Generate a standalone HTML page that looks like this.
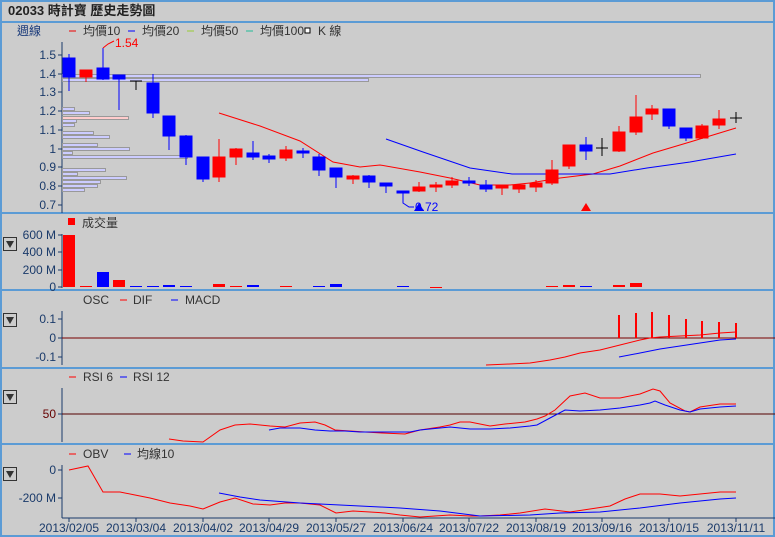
<!DOCTYPE html>
<html><head><meta charset="utf-8"><style>
body{margin:0;background:#ccc;}
svg{display:block;font-family:"Liberation Sans","Noto Sans CJK TC",sans-serif;}
</style></head><body>
<svg width="775" height="537" viewBox="0 0 775 537" xmlns="http://www.w3.org/2000/svg">
<rect x="0" y="0" width="775" height="537" fill="#cccccc"/>
<g fill="none" stroke="#5b9bd5" stroke-width="2">
<rect x="1" y="1" width="773" height="535"/>
<line x1="0" y1="22" x2="775" y2="22"/>
<line x1="0" y1="213" x2="775" y2="213"/>
<line x1="0" y1="290" x2="775" y2="290"/>
<line x1="0" y1="368" x2="775" y2="368"/>
<line x1="0" y1="444" x2="775" y2="444"/>
</g>
<text x="8" y="15" font-size="13" font-weight="bold" fill="#222">02033 時計寶  歷史走勢圖</text>
<!-- legend -->
<g font-size="12">
<text x="17" y="35" fill="#1a3a7a">週線</text>
<line x1="69" y1="31" x2="76" y2="31" stroke="#e00"/><text x="83" y="35" fill="#333">均價10</text>
<line x1="128" y1="31" x2="135" y2="31" stroke="#00f"/><text x="142" y="35" fill="#333">均價20</text>
<line x1="187" y1="31" x2="194" y2="31" stroke="#9c3"/><text x="201" y="35" fill="#333">均價50</text>
<line x1="246" y1="31" x2="253" y2="31" stroke="#2b9"/><text x="260" y="35" fill="#333">均價100</text>
<rect x="305" y="28" width="5" height="5" fill="#fff" stroke="#000"/><text x="318" y="35" fill="#333">K 線</text>
</g>
<!-- price axis -->
<g stroke="#1a3a6a"><line x1="62" y1="42" x2="62" y2="213"/>
<line x1="58" y1="55" x2="62" y2="55"/><line x1="58" y1="74" x2="62" y2="74"/><line x1="58" y1="92" x2="62" y2="92"/><line x1="58" y1="111" x2="62" y2="111"/><line x1="58" y1="130" x2="62" y2="130"/><line x1="58" y1="149" x2="62" y2="149"/><line x1="58" y1="167" x2="62" y2="167"/><line x1="58" y1="186" x2="62" y2="186"/><line x1="58" y1="205" x2="62" y2="205"/></g>
<g font-size="12" fill="#1a3a6a" text-anchor="end">
<text x="56" y="59">1.5</text><text x="56" y="78">1.4</text><text x="56" y="96">1.3</text><text x="56" y="115">1.2</text><text x="56" y="134">1.1</text><text x="56" y="153">1</text><text x="56" y="171">0.9</text><text x="56" y="190">0.8</text><text x="56" y="209">0.7</text>
</g>
<!-- volume profile -->
<g fill="#ccccff" stroke="#999" stroke-width="1">
<rect x="62.5" y="74.5" width="638" height="3"/>
<rect x="62.5" y="78.5" width="306" height="3"/>
<rect x="62.5" y="107.5" width="12" height="3"/>
<rect x="62.5" y="111.5" width="27" height="3"/>
<rect x="62.5" y="116.5" width="66" height="3" fill="#ffcccc"/>
<rect x="62.5" y="119.5" width="14" height="3"/>
<rect x="62.5" y="123.5" width="12" height="3"/>
<rect x="62.5" y="131.5" width="31" height="3"/>
<rect x="62.5" y="135.5" width="47" height="3"/>
<rect x="62.5" y="143.5" width="35" height="3"/>
<rect x="62.5" y="147.5" width="67" height="3"/>
<rect x="62.5" y="151.5" width="10" height="3"/>
<rect x="62.5" y="155.5" width="125" height="3"/>
<rect x="62.5" y="168.5" width="43" height="3"/>
<rect x="62.5" y="172.5" width="15" height="3"/>
<rect x="62.5" y="176.5" width="64" height="3"/>
<rect x="62.5" y="180.5" width="38" height="3"/>
<rect x="62.5" y="184.5" width="35" height="3"/>
<rect x="62.5" y="188.5" width="22" height="3"/>
</g>
<!-- MAs -->
<polyline fill="none" stroke="#f00" points="219,113 260,126 300,141 333,162 360,167 380,165 420,172 450,178 480,185 510,185 530,183 560,178 593,174 620,166 653,153 690,142 736,128"/>
<polyline fill="none" stroke="#00f" points="386,139 423,152 470,168 512,174 610,174 647,168 690,162 736,154"/>
<!-- candles -->
<g stroke-width="1">
<g stroke="#00f" fill="#00f">
<line x1="69" y1="54" x2="69" y2="91"/><rect x="63" y="58" width="12" height="19"/>
<line x1="103" y1="48" x2="103" y2="80"/><rect x="97" y="68" width="12" height="11"/>
<line x1="119" y1="75" x2="119" y2="110"/><rect x="113" y="75" width="12" height="4"/>
<line x1="153" y1="74" x2="153" y2="118"/><rect x="147" y="83" width="12" height="30"/>
<line x1="169" y1="116" x2="169" y2="150"/><rect x="163" y="116" width="12" height="20"/>
<line x1="186" y1="135" x2="186" y2="165"/><rect x="180" y="136" width="12" height="21"/>
<line x1="203" y1="157" x2="203" y2="182"/><rect x="197" y="157" width="12" height="22"/>
<line x1="253" y1="141" x2="253" y2="160"/><rect x="247" y="153" width="12" height="4"/>
<line x1="269" y1="154" x2="269" y2="163"/><rect x="263" y="156" width="12" height="3"/>
<line x1="303" y1="148" x2="303" y2="158"/><rect x="297" y="151" width="12" height="2"/>
<line x1="319" y1="154" x2="319" y2="176"/><rect x="313" y="157" width="12" height="13"/>
<line x1="336" y1="168" x2="336" y2="188"/><rect x="330" y="168" width="12" height="9"/>
<line x1="369" y1="175" x2="369" y2="188"/><rect x="363" y="176" width="12" height="6"/>
<line x1="386" y1="183" x2="386" y2="193"/><rect x="380" y="183" width="12" height="3"/>
<rect x="397" y="191" width="12" height="2"/>
<polyline fill="none" points="403,192 403,203 409,207 414,207"/>
<line x1="469" y1="177" x2="469" y2="186"/><rect x="463" y="181" width="12" height="2"/>
<line x1="486" y1="180" x2="486" y2="192"/><rect x="480" y="185" width="12" height="4"/>
<line x1="586" y1="137" x2="586" y2="160"/><rect x="580" y="145" width="12" height="6"/>
<line x1="669" y1="109" x2="669" y2="129"/><rect x="663" y="109" width="12" height="17"/>
<line x1="686" y1="128" x2="686" y2="141"/><rect x="680" y="128" width="12" height="10"/>
</g>
<g stroke="#f00" fill="#f00">
<line x1="86" y1="70" x2="86" y2="82"/><rect x="80" y="70" width="12" height="7"/>
<line x1="219" y1="139" x2="219" y2="182"/><rect x="213" y="157" width="12" height="20"/>
<line x1="236" y1="148" x2="236" y2="165"/><rect x="230" y="149" width="12" height="8"/>
<line x1="286" y1="146" x2="286" y2="161"/><rect x="280" y="150" width="12" height="8"/>
<line x1="353" y1="175" x2="353" y2="184"/><rect x="347" y="176" width="12" height="3"/>
<line x1="419" y1="182" x2="419" y2="192"/><rect x="413" y="187" width="12" height="4"/>
<line x1="436" y1="182" x2="436" y2="192"/><rect x="430" y="185" width="12" height="2"/>
<line x1="452" y1="177" x2="452" y2="188"/><rect x="446" y="181" width="12" height="4"/>
<line x1="502" y1="185" x2="502" y2="195"/><rect x="496" y="186" width="12" height="2"/>
<line x1="519" y1="185" x2="519" y2="193"/><rect x="513" y="185" width="12" height="4"/>
<line x1="536" y1="180" x2="536" y2="192"/><rect x="530" y="183" width="12" height="4"/>
<line x1="552" y1="160" x2="552" y2="185"/><rect x="546" y="170" width="12" height="13"/>
<line x1="569" y1="145" x2="569" y2="169"/><rect x="563" y="145" width="12" height="21"/>
<line x1="619" y1="126" x2="619" y2="152"/><rect x="613" y="132" width="12" height="19"/>
<line x1="636" y1="95" x2="636" y2="135"/><rect x="630" y="117" width="12" height="15"/>
<line x1="652" y1="105" x2="652" y2="120"/><rect x="646" y="109" width="12" height="5"/>
<line x1="702" y1="124" x2="702" y2="139"/><rect x="696" y="126" width="12" height="12"/>
<line x1="719" y1="110" x2="719" y2="129"/><rect x="713" y="119" width="12" height="6"/>
</g>
<g stroke="#000">
<line x1="136" y1="81" x2="136" y2="90"/><line x1="130" y1="81" x2="142" y2="81"/>
<line x1="602" y1="138" x2="602" y2="156"/><line x1="596" y1="148" x2="608" y2="148"/>
<line x1="736" y1="112" x2="736" y2="123"/><line x1="730" y1="118" x2="742" y2="118"/>
</g>
</g>
<polyline fill="none" stroke="#f00" points="103,48 108,44 114,41"/>
<text x="115" y="47" font-size="12" fill="#f00">1.54</text>
<text x="415" y="211" font-size="12" fill="#00f">0.72</text>
<polygon points="414,211 419,203 424,211" fill="#00f"/>
<polygon points="581,211 586,203 591,211" fill="#f00"/>
<!-- volume panel -->
<rect x="68" y="218" width="7" height="7" fill="#f00"/>
<text x="82" y="227" font-size="12" fill="#333">成交量</text>
<g stroke="#1a3a6a"><line x1="62" y1="234" x2="62" y2="288"/><line x1="58" y1="235" x2="62" y2="235"/><line x1="58" y1="252" x2="62" y2="252"/><line x1="58" y1="270" x2="62" y2="270"/><line x1="58" y1="287" x2="62" y2="287"/></g>
<g font-size="12" fill="#1a3a6a" text-anchor="end"><text x="56" y="239">600 M</text><text x="56" y="256">400 M</text><text x="56" y="274">200 M</text><text x="56" y="291">0</text></g>
<g fill="#f00"><rect x="63" y="235" width="12" height="52"/><rect x="80" y="286" width="12" height="1"/><rect x="113" y="280" width="12" height="7"/><rect x="213" y="284" width="12" height="3"/><rect x="230" y="286" width="12" height="1"/><rect x="280" y="286" width="12" height="1"/><rect x="430" y="287" width="12" height="1"/><rect x="546" y="286" width="12" height="1"/><rect x="563" y="285" width="12" height="2"/><rect x="613" y="285" width="12" height="2"/><rect x="630" y="283" width="12" height="4"/></g>
<g fill="#00f"><rect x="97" y="272" width="12" height="15"/><rect x="130" y="286" width="12" height="1"/><rect x="147" y="286" width="12" height="1"/><rect x="163" y="285" width="12" height="2"/><rect x="180" y="286" width="12" height="1"/><rect x="247" y="285" width="12" height="2"/><rect x="313" y="286" width="12" height="1"/><rect x="330" y="284" width="12" height="3"/><rect x="397" y="286" width="12" height="1"/><rect x="580" y="286" width="12" height="1"/></g>
<!-- dropdown icons -->
<g>
<rect x="3.5" y="237.5" width="13" height="13" fill="#ccc" stroke="#333"/><polygon points="6,241 14,241 10,248" fill="#333"/>
<rect x="3.5" y="313.5" width="13" height="13" fill="#ccc" stroke="#333"/><polygon points="6,317 14,317 10,324" fill="#333"/>
<rect x="3.5" y="390.5" width="13" height="13" fill="#ccc" stroke="#333"/><polygon points="6,394 14,394 10,401" fill="#333"/>
<rect x="3.5" y="467.5" width="13" height="13" fill="#ccc" stroke="#333"/><polygon points="6,471 14,471 10,478" fill="#333"/>
</g>
<!-- MACD panel -->
<g font-size="12" fill="#333"><text x="83" y="304">OSC</text><line x1="120" y1="300" x2="127" y2="300" stroke="#f00"/><text x="133" y="304">DIF</text><line x1="171" y1="300" x2="178" y2="300" stroke="#00f"/><text x="185" y="304">MACD</text></g>
<g stroke="#1a3a6a"><line x1="62" y1="311" x2="62" y2="365"/><line x1="58" y1="319" x2="62" y2="319"/><line x1="58" y1="338" x2="62" y2="338"/><line x1="58" y1="357" x2="62" y2="357"/></g>
<g font-size="12" fill="#1a3a6a" text-anchor="end"><text x="56" y="323">0.1</text><text x="56" y="342">0</text><text x="56" y="361">-0.1</text></g>
<line x1="62" y1="338" x2="775" y2="338" stroke="#700"/>
<g stroke="#f00" stroke-width="2"><line x1="619" y1="315" x2="619" y2="338"/><line x1="636" y1="313" x2="636" y2="338"/><line x1="652" y1="312" x2="652" y2="338"/><line x1="669" y1="315" x2="669" y2="338"/><line x1="686" y1="319" x2="686" y2="338"/><line x1="702" y1="321" x2="702" y2="338"/><line x1="719" y1="322" x2="719" y2="338"/><line x1="736" y1="323" x2="736" y2="338"/></g>
<polyline fill="none" stroke="#f00" points="486,365 510,364 530,363 550,360 565,357 580,353 600,350 620,345 640,340 650,338 660,337 680,336 700,335 720,333 736,332"/>
<polyline fill="none" stroke="#00f" points="619,357 640,353 660,349 680,346 700,343 720,340 736,339"/>
<!-- RSI panel -->
<g font-size="12" fill="#333"><line x1="69" y1="377" x2="76" y2="377" stroke="#f00"/><text x="83" y="381">RSI 6</text><line x1="120" y1="377" x2="127" y2="377" stroke="#00f"/><text x="133" y="381">RSI 12</text></g>
<line x1="62" y1="388" x2="62" y2="442" stroke="#1a3a6a"/>
<line x1="58" y1="414" x2="62" y2="414" stroke="#1a3a6a"/>
<text x="56" y="418" font-size="12" fill="#600" text-anchor="end">50</text>
<line x1="62" y1="414" x2="775" y2="414" stroke="#500"/>
<polyline fill="none" stroke="#f00" points="169,439 176,440 183,441 203,442 220,430 235,425 250,424 270,426 285,427 300,423 315,422 325,425 335,430 350,431 365,432 382,433 405,434 420,430 440,427 450,425 460,422 470,422 480,424 490,426 505,424 525,422 537,419 545,416 555,410 570,396 585,393 600,398 620,398 640,394 653,389 660,391 670,403 685,411 690,412 700,407 720,404 736,404"/>
<polyline fill="none" stroke="#00f" points="269,430 280,428 300,428 315,430 330,431 345,431 360,432 380,432 410,432 420,430 440,428 450,427 470,429 490,429 510,428 530,426 537,425 550,418 565,410 580,411 600,410 620,408 640,405 650,403 655,401 665,405 680,410 690,412 700,409 720,407 736,406"/>
<!-- OBV panel -->
<g font-size="12" fill="#333"><line x1="69" y1="454" x2="76" y2="454" stroke="#f00"/><text x="83" y="458">OBV</text><line x1="124" y1="454" x2="131" y2="454" stroke="#00f"/><text x="137" y="458">均線10</text></g>
<g stroke="#1a3a6a"><line x1="62" y1="465" x2="62" y2="518"/><line x1="62" y1="518" x2="775" y2="518"/><line x1="58" y1="470" x2="62" y2="470"/><line x1="58" y1="498" x2="62" y2="498"/>
<line x1="69" y1="518" x2="69" y2="522"/><line x1="136" y1="518" x2="136" y2="522"/><line x1="203" y1="518" x2="203" y2="522"/><line x1="269" y1="518" x2="269" y2="522"/><line x1="336" y1="518" x2="336" y2="522"/><line x1="403" y1="518" x2="403" y2="522"/><line x1="469" y1="518" x2="469" y2="522"/><line x1="536" y1="518" x2="536" y2="522"/><line x1="602" y1="518" x2="602" y2="522"/><line x1="669" y1="518" x2="669" y2="522"/><line x1="736" y1="518" x2="736" y2="522"/></g>
<g font-size="12" fill="#1a3a6a" text-anchor="end"><text x="56" y="474">0</text><text x="56" y="502">-200 M</text></g>
<polyline fill="none" stroke="#f00" points="69,470 88,466 103,492 120,492 135,495 150,498 170,503 190,506 203,509 220,502 235,498 253,504 270,505 285,503 300,503 320,505 336,513 353,511 370,512 385,513 400,515 420,517 450,515 470,516 480,516 500,515 520,513 545,509 570,512 590,509 610,506 625,499 640,494 660,494 680,496 700,494 720,492 736,492"/>
<polyline fill="none" stroke="#00f" points="219,493 240,497 260,500 300,503 340,505 380,507 400,508 440,511 480,516 530,515 560,513 600,512 640,508 680,503 720,499 736,498"/>
<g font-size="12" fill="#1a3a6a" text-anchor="middle">
<text x="69" y="532">2013/02/05</text><text x="136" y="532">2013/03/04</text><text x="203" y="532">2013/04/02</text><text x="269" y="532">2013/04/29</text><text x="336" y="532">2013/05/27</text><text x="403" y="532">2013/06/24</text><text x="469" y="532">2013/07/22</text><text x="536" y="532">2013/08/19</text><text x="602" y="532">2013/09/16</text><text x="669" y="532">2013/10/15</text><text x="736" y="532">2013/11/11</text>
</g>
</svg>
</body></html>
